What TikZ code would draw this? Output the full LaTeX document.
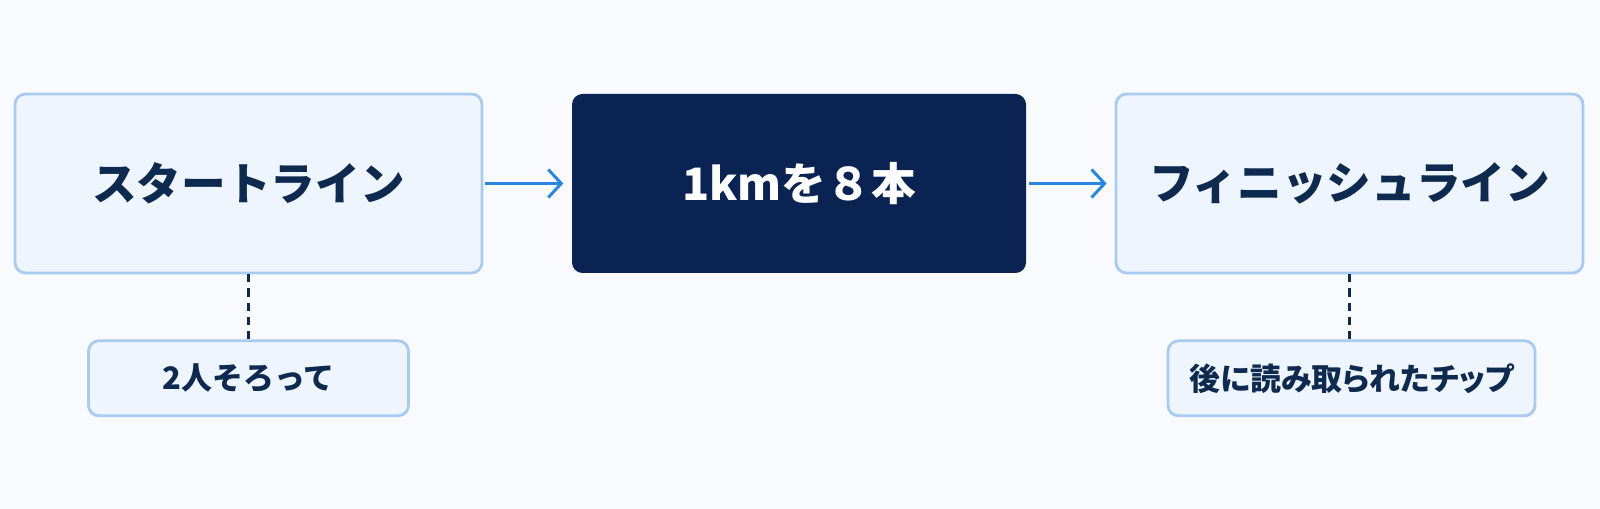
\documentclass[tikz,border=0pt]{standalone}
\usepackage{fontspec}
\setmainfont{Noto Sans CJK JP}
\newfontfamily\paltfont[RawFeature=+palt]{Noto Sans CJK JP}
\usetikzlibrary{positioning,arrows.meta}
\definecolor{bgWhite}{HTML}{F8FAFD}
\definecolor{boxFill}{HTML}{EEF5FD}
\definecolor{boxLine}{HTML}{AACBF0}
\definecolor{navyBox}{HTML}{0A2352}
\definecolor{navyText}{HTML}{0F2A4F}
\definecolor{flowBlue}{HTML}{2B86E0}

\begin{document}
\begin{tikzpicture}
[lightDecorate/.style={shape=rectangle,rounded corners=3pt,draw=boxLine,line width=0.8pt,
   fill=boxFill,text=navyText,font=\fontsize{12.7pt}{14pt}\selectfont\bfseries,
   minimum width=4.67cm,minimum height=1.79cm},
  darkDecorate/.style={shape=rectangle,rounded corners=3pt,fill=navyBox,text=white,
   font=\fontsize{12.7pt}{14pt}\selectfont\bfseries,
   minimum width=4.54cm,minimum height=1.79cm},
  noteDecorate/.style={shape=rectangle,rounded corners=3pt,draw=boxLine,line width=0.8pt,
   fill=boxFill,text=navyText,font=\fontsize{8.8pt}{10pt}\selectfont\bfseries,
   minimum height=0.75cm},
  flowDecorate/.style={-{Straight Barb[length=1.3mm,width=2.8mm,line width=0.85pt]},
   draw=flowBlue,line width=0.85pt},
  linkDecorate/.style={draw=navyText,line width=0.6pt,dash pattern=on 2.3pt off 1.7pt}]
\useasboundingbox[fill=bgWhite] (0,0) rectangle (16,5.09);
%% main boxes
\node (start) at (2.485,3.255) [lightDecorate] {スタートライン};
\node (run) at (7.99,3.255) [darkDecorate] {1kmを８本};
\node (finish) at (13.495,3.255) [lightDecorate] {フィニッシュライン};
%% notes
\node (pair) [noteDecorate,minimum width=3.2cm,below=0.65cm of start] {2人そろって};
\node (chip) [noteDecorate,minimum width=3.67cm,below=0.65cm of finish,xshift=0.02cm]
  {\paltfont\bfseries 後に読み取られたチップ};
%% connectors
\path
\foreach \startnode/\endnode in {start/run, run/finish}
{
  (\startnode) edge[flowDecorate,shorten <=0.02cm,shorten >=0.08cm] (\endnode)
};
\draw[linkDecorate] (start.south) -- (pair.north);
\draw[linkDecorate] (finish.south) -- (finish.south |- chip.north);
\end{tikzpicture}
\end{document}
